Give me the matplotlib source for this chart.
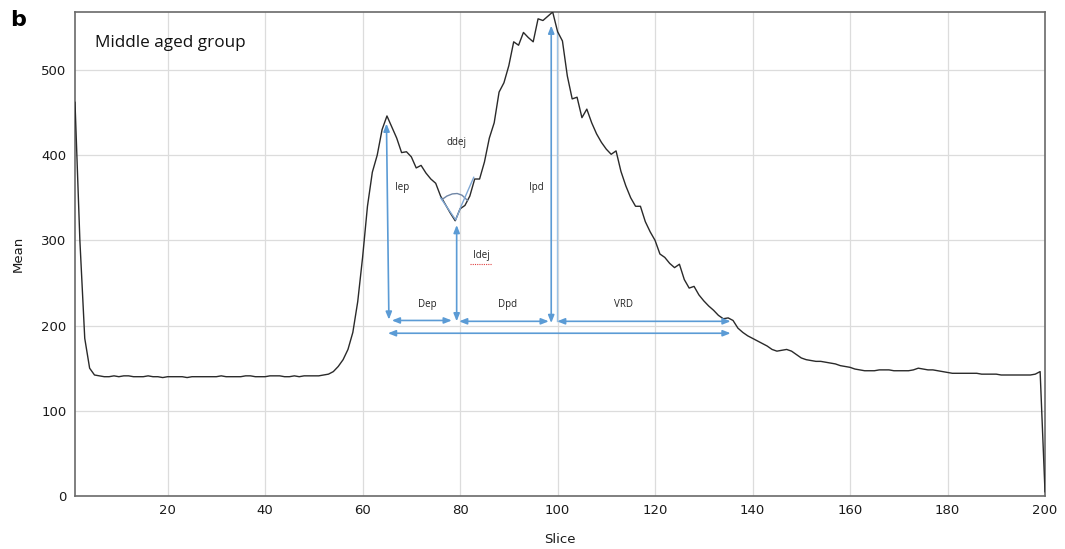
import matplotlib
matplotlib.use("Agg")
import matplotlib.pyplot as plt
import numpy as np

# ---------------- data ----------------
slices = list(range(1, 201))
flat = [141, 140, 140, 141, 140, 141, 141, 140, 140, 140, 141, 140, 140, 139, 140,
        140, 140, 140, 139, 140, 140, 140, 140, 140, 140, 141, 140, 140, 140, 140,
        141, 141, 140, 140, 140, 141, 141, 141, 140, 140, 141, 140, 141, 141, 141,
        141, 142]  # slices 6..52
mean_values = ([462, 300, 185, 150, 142] + flat +
               [143, 146, 152, 160, 172, 192, 228, 280, 340, 380,          # 53-62
                400, 430, 446, 433, 420, 403, 404, 398, 385, 388,          # 63-72
                379, 372, 367, 352, 342, 332, 323, 337, 341, 352,          # 73-82
                372, 372, 392, 420, 438, 474, 485, 505, 533, 529,          # 83-92
                544, 538, 533, 560, 558, 563, 568, 545, 534, 493,          # 93-102
                466, 468, 444, 454, 438, 425, 415, 407, 401, 405,          # 103-112
                381, 364, 350, 340, 340, 322, 310, 300, 284, 280,          # 113-122
                273, 268, 272, 254, 244, 246, 236, 229, 223, 218,          # 123-132
                212, 208, 209, 206, 197, 192, 188, 185, 182, 179,          # 133-142
                176, 172, 170, 171, 172, 170, 166, 162, 160, 159,          # 143-152
                158, 158, 157, 156, 155, 153, 152, 151, 149, 148,          # 153-162
                147, 147, 147, 148, 148, 148, 147, 147, 147, 147,          # 163-172
                148, 150, 149, 148, 148, 147, 146, 145, 144, 144,          # 173-182
                144, 144, 144, 144, 143, 143, 143, 143, 142, 142,          # 183-192
                142, 142, 142, 142, 142, 143, 146, 5])                     # 193-200

x_ticks = [20, 40, 60, 80, 100, 120, 140, 160, 180, 200]
y_ticks = [0, 100, 200, 300, 400, 500]

# annotation geometry (data units)
double_arrows = [  # (x0, y0, x1, y1)
    (64.9, 437, 65.4, 207),     # Iep
    (79.3, 318, 79.3, 205),     # Idej
    (98.7, 552, 98.7, 203),     # Ipd
    (66.0, 206, 78.3, 206),     # Dep
    (79.8, 205, 98.2, 205),     # Dpd
    (99.9, 205, 135.5, 205),    # VRD
    (65.2, 191, 135.5, 191),    # total
]
ann_labels = [("ddej", 79.3, 415), ("Iep", 68.2, 362), ("Ipd", 95.6, 362),
              ("Idej", 84.3, 282), ("Dep", 73.3, 225), ("Dpd", 89.7, 225),
              ("VRD", 113.6, 225)]
arc_x = [76.3, 77.3, 78.4, 79.4, 80.4, 81.5]
arc_y = [348, 352, 354.5, 355, 353, 347]
vee_x = [76.0, 79.1, 80.2, 82.8]
vee_y = [350, 324, 340, 374]

# ---------------- figure ----------------
fig = plt.figure(figsize=(10.65, 5.49), dpi=100)
ax = fig.add_axes([75 / 1065, 53 / 549, 970 / 1065, 484 / 549])

ax.set_xlim(1, 200)
ax.set_ylim(0, 568)
ax.set_xticks(x_ticks)
ax.set_yticks(y_ticks)
ax.grid(True, color="#dcdcdc", linewidth=0.9)
ax.set_axisbelow(True)
ax.tick_params(length=0, labelsize=9.5, colors="#1a1a1a", pad=6)
for sp in ax.spines.values():
    sp.set_color("#6a6a6a")
    sp.set_linewidth(1.2)

ax.plot(slices, mean_values, color="#2a2a2a", linewidth=1.0, zorder=3)

blue = "#5b9bd5"
ax.plot([99.9, 99.9], [205, 545], color="#9cc3e6", linewidth=1.0, zorder=2)
for (x0, y0, x1, y1) in double_arrows:
    ax.annotate("", xy=(x1, y1), xytext=(x0, y0),
                arrowprops=dict(arrowstyle="<|-|>,head_length=0.45,head_width=0.18",
                                color=blue, lw=1.2, shrinkA=0, shrinkB=0),
                zorder=4)
ax.plot(arc_x, arc_y, color="#6f86a6", linewidth=1.0, zorder=4)
ax.plot(vee_x, vee_y, color="#7fa7d4", linewidth=1.0, zorder=4)

for (t, x, y) in ann_labels:
    ax.text(x, y, t, fontsize=7, family="Open Sans", color="#222222",
            ha="center", va="center", zorder=5)
ax.plot([82.0, 86.6], [272, 272], color="#e04040", linewidth=0.8,
        linestyle=(0, (1, 1)), zorder=5)

ax.text(0.021, 0.935, "Middle aged group", transform=ax.transAxes,
        fontsize=12.3, family="Open Sans", color="#111111", va="center")

ax.set_xlabel("Slice", fontsize=9.5, color="#1a1a1a", labelpad=11)
ax.set_ylabel("Mean", fontsize=9.5, color="#1a1a1a", labelpad=12)

fig.text(10 / 1065, 1 - 20 / 549, "b", fontsize=16, fontweight="bold",
         va="center", ha="left")

fig.savefig("out.png", dpi=100)
